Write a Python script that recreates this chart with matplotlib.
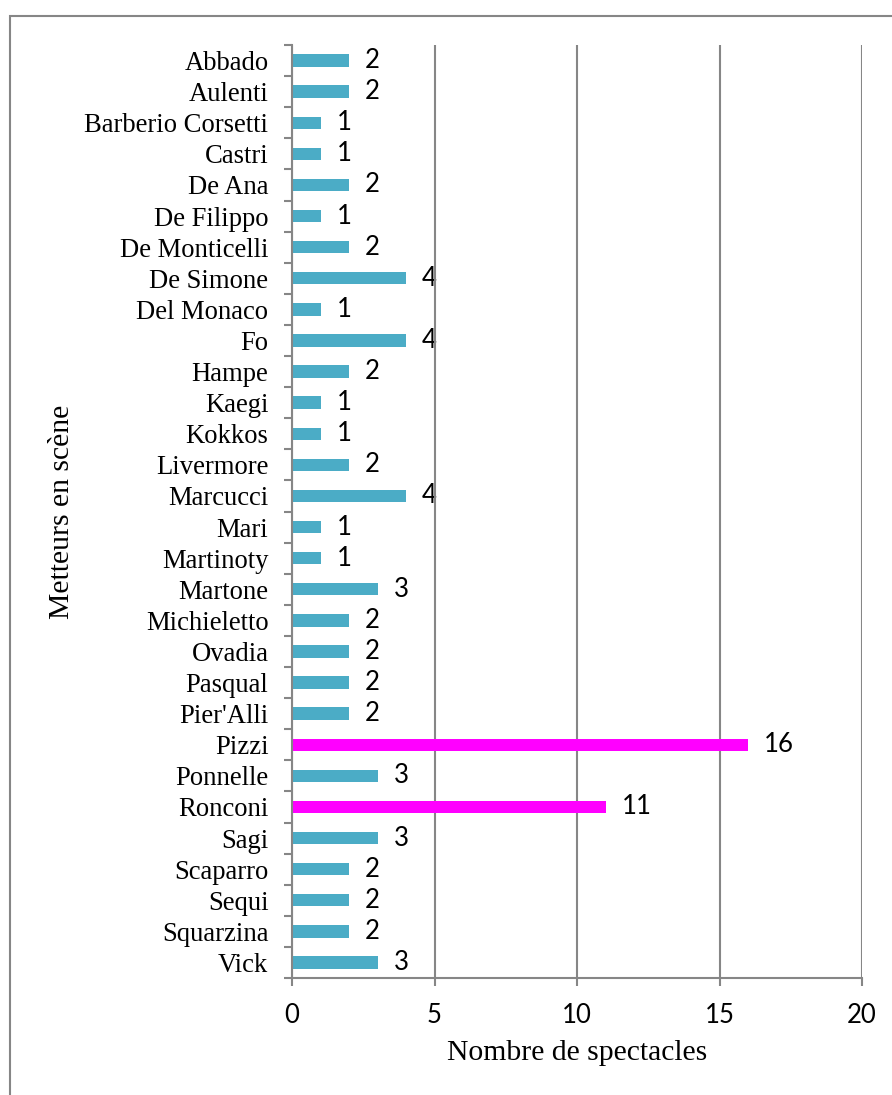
import matplotlib
matplotlib.use("Agg")
import matplotlib.pyplot as plt
from matplotlib.patches import Rectangle

directors = ["Abbado", "Aulenti", "Barberio Corsetti", "Castri", "De Ana", "De Filippo",
             "De Monticelli", "De Simone", "Del Monaco", "Fo", "Hampe", "Kaegi", "Kokkos",
             "Livermore", "Marcucci", "Mari", "Martinoty", "Martone", "Michieletto", "Ovadia",
             "Pasqual", "Pier'Alli", "Pizzi", "Ponnelle", "Ronconi", "Sagi", "Scaparro",
             "Sequi", "Squarzina", "Vick"]
counts = [2, 2, 1, 1, 2, 1, 2, 4, 1, 4, 2, 1, 1, 2, 4, 1, 1, 3, 2, 2, 2, 2, 16, 3, 11, 3, 2, 2, 2, 3]
highlight = ["Pizzi", "Ronconi"]
x_ticks = [0, 5, 10, 15, 20]

teal = "#4BACC6"
magenta = "#FF00FF"
gray = "#868686"

W, H = 892, 1095
fig = plt.figure(figsize=(W / 100, H / 100), dpi=100)
fig.patch.set_facecolor("white")

# outer border (chart area frame)
fig.add_artist(Rectangle((10 / W, -0.05), 1.2, 1 - 16 / H + 0.05, transform=fig.transFigure,
                         fill=False, edgecolor=gray, linewidth=1.5))

ax = fig.add_axes([292 / W, 1 - 978 / H, (862 - 292) / W, (978 - 45) / H])

ypos = list(range(len(directors)))
colors = [magenta if d in highlight else teal for d in directors]
ax.barh(ypos, counts, height=0.4, color=colors, zorder=3)
ax.set_ylim(len(directors) - 0.5, -0.5)
ax.set_xlim(0, 20)

for y, v in zip(ypos, counts):
    ax.annotate(str(v), xy=(v, y), xytext=(11.5, 0), textcoords="offset points",
                ha="left", va="center", fontsize=18.5, family="Lato", color="black", zorder=2)

ax.set_xticks(x_ticks)
ax.set_xticklabels([str(t) for t in x_ticks], fontsize=18.5, family="Lato")
ax.set_yticks([y for y in ypos])
ax.set_yticklabels(directors, fontsize=19.2, family="Liberation Serif")
ax.tick_params(axis="y", length=0, pad=17)
ax.tick_params(axis="x", length=6, width=1.5, color=gray, pad=12)

# minor ticks on y between categories
ax.set_yticks([y - 0.5 for y in range(len(directors) + 1)], minor=True)
ax.tick_params(axis="y", which="minor", length=6, width=1.5, color=gray)

ax.grid(axis="x", color=gray, linewidth=1.5, zorder=1)
ax.set_axisbelow(False)
for s in ["top", "right"]:
    ax.spines[s].set_visible(False)
for s in ["left", "bottom"]:
    ax.spines[s].set_color(gray)
    ax.spines[s].set_linewidth(1.5)
    ax.spines[s].set_zorder(4)

fig.text(577 / W, 1 - 1053 / H, "Nombre de spectacles", ha="center", va="center",
         fontsize=21.3, family="Liberation Serif")
fig.text(62 / W, 1 - 512 / H, "Metteurs en scène", ha="center", va="center", rotation=90,
         fontsize=21.3, family="Liberation Serif")

fig.savefig("out.png", dpi=100, facecolor="white")
